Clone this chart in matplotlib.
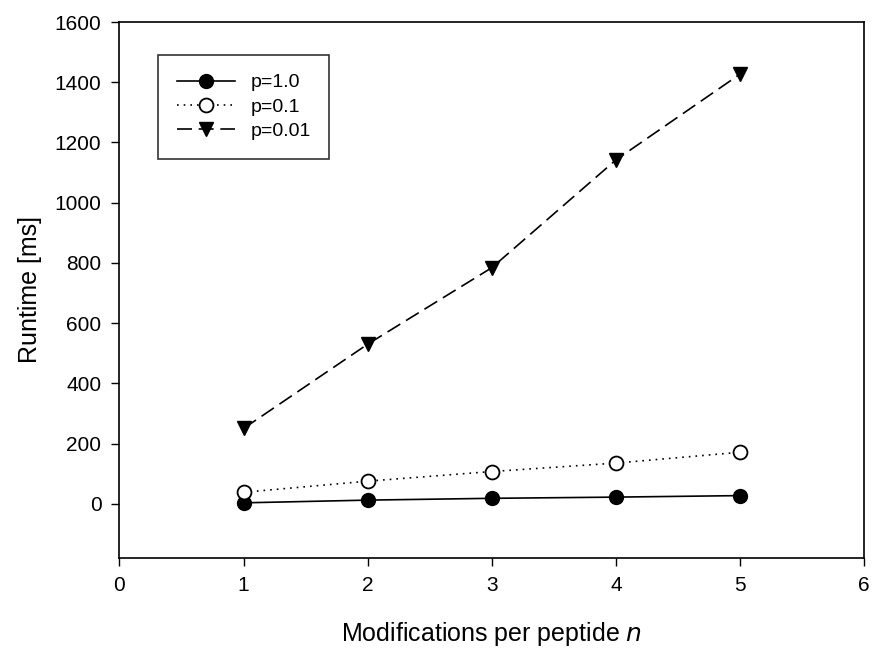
import matplotlib
matplotlib.use("Agg")
import matplotlib.pyplot as plt

plt.rcParams['font.family'] = ['Liberation Sans', 'DejaVu Sans']

n = [1, 2, 3, 4, 5]
p_1_0 = [3, 12, 18, 22, 27]
p_0_1 = [38, 75, 107, 135, 171]
p_0_01 = [250, 530, 784, 1142, 1427]
labels = ["p=1.0", "p=0.1", "p=0.01"]
xticks = [0, 1, 2, 3, 4, 5, 6]
yticks = [0, 200, 400, 600, 800, 1000, 1200, 1400, 1600]

fig = plt.figure(figsize=(8.72, 6.48), dpi=100)
ax = fig.add_axes([0.137, 0.139, 0.854, 0.827])

ax.plot(n, p_1_0, color='black', lw=1.2, ls='-', marker='o', ms=10,
        mfc='black', mec='black', label=labels[0])
ax.plot(n, p_0_1, color='black', lw=1.2, ls=(0, (1, 3)), marker='o', ms=10,
        mfc='white', mec='black', mew=1.3, label=labels[1])
ax.plot(n, p_0_01, color='black', lw=1.2, ls=(0, (9, 4)), marker='v', ms=10,
        mfc='black', mec='black', label=labels[2])

ax.set_xlim(0, 6)
ax.set_ylim(-180, 1600)
ax.set_xticks(xticks)
ax.set_yticks(yticks)
ax.tick_params(direction='out', length=6, width=1, labelsize=15, top=False, right=False, pad=7)
for s in ax.spines.values():
    s.set_linewidth(1.2)

ax.set_xlabel("Modifications per peptide $\\it{n}$", fontsize=18, labelpad=18)
ax.set_ylabel("Runtime [ms]", fontsize=18, labelpad=9)

leg = ax.legend(loc='upper left', bbox_to_anchor=(0.052, 0.938), borderaxespad=0,
                fontsize=14, frameon=True, fancybox=False, edgecolor='black',
                handlelength=3, borderpad=0.95, labelspacing=0.35, handletextpad=0.8)
leg.get_frame().set_linewidth(1.2)

fig.savefig("out.png", dpi=100)
